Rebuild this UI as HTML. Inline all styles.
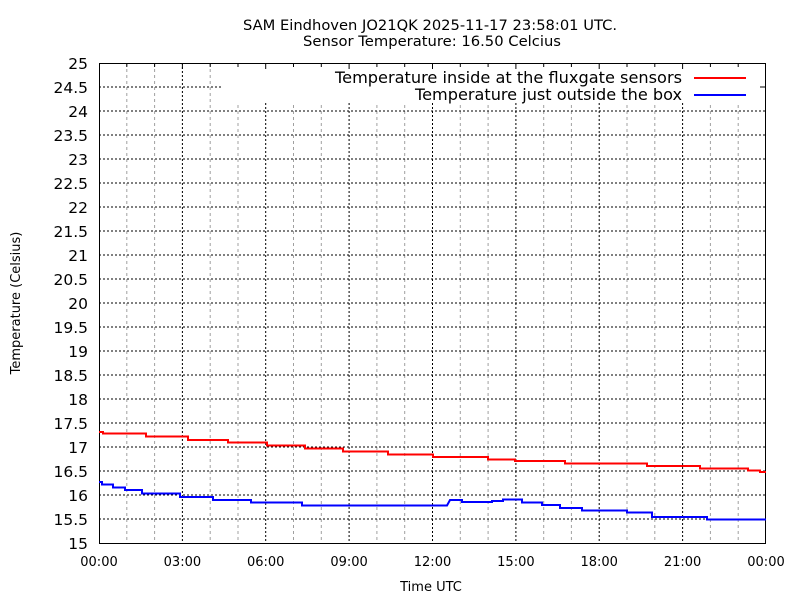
<!DOCTYPE html>
<html><head><meta charset="utf-8"><style>
html,body{margin:0;padding:0;background:#fff;}
svg{display:block;font-family:"DejaVu Sans","Liberation Sans",sans-serif;}
</style></head><body>
<svg width="800" height="600" viewBox="0 0 800 600" xmlns="http://www.w3.org/2000/svg">
<rect width="800" height="600" fill="#fff"/>
<path d="M126.8 63V543M154.6 63V543M210.2 63V543M238 63V543M293.5 63V543M321.3 63V543M376.9 63V543M404.7 63V543M460.3 63V543M488.1 63V543M543.7 63V543M571.4 63V543M627 63V543M654.8 63V543M710.4 63V543M738.2 63V543" stroke="#a0a0a0" stroke-width="1" stroke-dasharray="3,3" fill="none"/>
<path d="M182.4 63V543M265.7 63V543M349.1 63V543M432.5 63V543M515.9 63V543M599.2 63V543M682.6 63V543" stroke="#000" stroke-width="1" stroke-dasharray="2,2" fill="none"/>
<path d="M99 87H766M99 111H766M99 135H766M99 159H766M99 183H766M99 207H766M99 231H766M99 255H766M99 279H766M99 303H766M99 327H766M99 351H766M99 375H766M99 399H766M99 423H766M99 447H766M99 471H766M99 495H766M99 519H766" stroke="#000" stroke-width="1" stroke-dasharray="2,2" fill="none"/>
<rect x="222" y="64" width="543" height="38" fill="#fff"/>
<!-- top ticks -->
<path d="M126.8 63v4M154.6 63v4M182.4 63v6M210.2 63v4M238 63v4M265.7 63v6M293.5 63v4M321.3 63v4M349.1 63v6M376.9 63v4M404.7 63v4M432.5 63v6M460.3 63v4M488.1 63v4M515.9 63v6M543.7 63v4M571.4 63v4M599.2 63v6M627 63v4M654.8 63v4M682.6 63v6M710.4 63v4M738.2 63v4M766 87h-6" stroke="#000" stroke-width="1" fill="none"/>
<rect x="99.5" y="63.5" width="666" height="480" fill="none" stroke="#000" stroke-width="1"/>
<polyline fill="none" stroke="#f00" stroke-width="2" points="99,432 103,432 103,433.5 146,433.5 146,436.5 188,436.5 188,440 228,440 228,442.5 267,442.5 267,445.5 305,445.5 305,448.5 343,448.5 343,451.5 388,451.5 388,454.5 433,454.5 433,457 488,457 488,459.5 515,459.5 515,461 565,461 565,463.5 647,463.5 647,466 700,466 700,468.5 748,468.5 748,470.5 760,470.5 760,472 766,472"/>
<polyline fill="none" stroke="#00f" stroke-width="2" points="99,482 102,482 102,484.5 113,484.5 113,487.5 125,487.5 125,490 142,490 142,493.5 180,493.5 180,497 213,497 213,500 251,500 251,502.5 302,502.5 302,505.5 447,505.5 450,500 462,500 462,502 492,502 492,501 503,501 503,499.5 522,499.5 522,502.5 542,502.5 542,505 560,505 560,508 582,508 582,510.5 627,510.5 627,512.5 652,512.5 652,517 707,517 707,519.5 766,519.5"/>
<text x="682" y="83" font-size="16" text-anchor="end" textLength="347" lengthAdjust="spacingAndGlyphs">Temperature inside at the fluxgate sensors</text>
<line x1="694" y1="78" x2="746" y2="78" stroke="#f00" stroke-width="2"/>
<text x="682" y="100" font-size="16" text-anchor="end" textLength="267" lengthAdjust="spacingAndGlyphs">Temperature just outside the box</text>
<line x1="694" y1="95" x2="746" y2="95" stroke="#00f" stroke-width="2"/>
<text x="430" y="30" font-size="14.5" text-anchor="middle" textLength="374" lengthAdjust="spacingAndGlyphs">SAM Eindhoven JO21QK 2025-11-17 23:58:01 UTC.</text>
<text x="432" y="46" font-size="14.5" text-anchor="middle" textLength="258" lengthAdjust="spacingAndGlyphs">Sensor Temperature: 16.50 Celcius</text>
<g font-size="15.5" text-anchor="end" fill="#000">
<text x="88" y="69">25</text><text x="88" y="93">24.5</text><text x="88" y="117">24</text><text x="88" y="141">23.5</text><text x="88" y="165">23</text><text x="88" y="189">22.5</text><text x="88" y="213">22</text><text x="88" y="237">21.5</text><text x="88" y="261">21</text><text x="88" y="285">20.5</text><text x="88" y="309">20</text><text x="88" y="333">19.5</text><text x="88" y="357">19</text><text x="88" y="381">18.5</text><text x="88" y="405">18</text><text x="88" y="429">17.5</text><text x="88" y="453">17</text><text x="88" y="477">16.5</text><text x="88" y="501">16</text><text x="88" y="525">15.5</text><text x="88" y="549">15</text>
</g>
<g font-size="13" text-anchor="middle" fill="#000">
<text x="99" y="566">00:00</text><text x="182.4" y="566">03:00</text><text x="265.7" y="566">06:00</text><text x="349.1" y="566">09:00</text><text x="432.5" y="566">12:00</text><text x="515.9" y="566">15:00</text><text x="599.2" y="566">18:00</text><text x="682.6" y="566">21:00</text><text x="766" y="566">00:00</text>
</g>
<text x="431" y="591" font-size="13" text-anchor="middle">Time UTC</text>
<text transform="translate(20,303) rotate(-90)" font-size="13" text-anchor="middle">Temperature (Celsius)</text>
</svg>
</body></html>
